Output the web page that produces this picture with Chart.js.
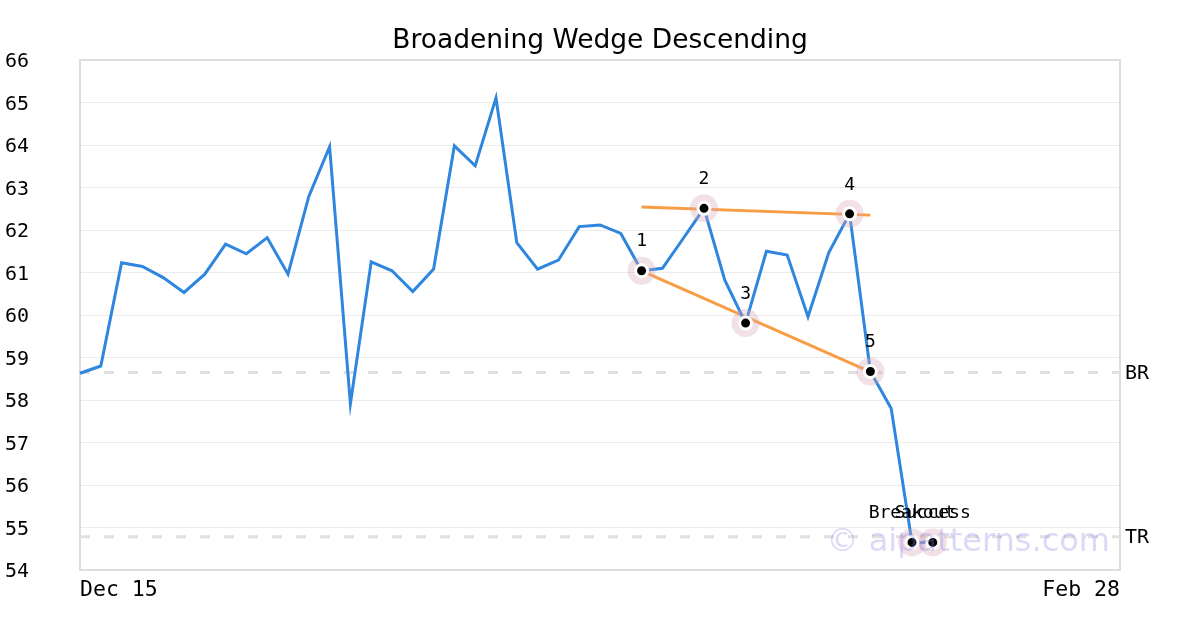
<!DOCTYPE html>
<html>
<head>
<meta charset="utf-8">
<script src="https://cdn.jsdelivr.net/npm/chart.js@4.4.1/dist/chart.umd.min.js"></script>
<style>
  html, body { margin: 0; padding: 0; background: #fff; }
  #grafico { display: block; }
</style>
</head>
<body>
<canvas id="grafico" width="1200" height="630"></canvas>
<script>
// ==============================
// DATOS
// ==============================

// Fechas (días de mercado)
const fechas = [
  "Dec 15", "Dec 16", "Dec 17", "Dec 18", "Dec 19", "Dec 22", "Dec 23", "Dec 24", "Dec 26",
  "Dec 29", "Dec 30", "Dec 31", "Jan 2", "Jan 5", "Jan 6", "Jan 7", "Jan 8", "Jan 9",
  "Jan 12", "Jan 13", "Jan 14", "Jan 15", "Jan 16", "Jan 20", "Jan 21", "Jan 22", "Jan 23",
  "Jan 26", "Jan 27", "Jan 28", "Jan 29", "Jan 30", "Feb 2", "Feb 3", "Feb 4", "Feb 5",
  "Feb 6", "Feb 9", "Feb 10", "Feb 11", "Feb 12", "Feb 13", "Feb 17", "Feb 18", "Feb 19",
  "Feb 20", "Feb 23", "Feb 24", "Feb 25", "Feb 26", "Feb 28"
];

// Precio
const precios = [
  58.63, 58.80, 61.23, 61.14, 60.88, 60.53, 60.96, 61.67, 61.44, 61.82,
  60.96, 62.79, 63.96, 57.91, 61.25, 61.04, 60.55, 61.08, 63.98, 63.51,
  65.11, 61.70, 61.08, 61.29, 62.08, 62.12, 61.92, 61.04, 61.10, 61.80,
  62.51, 60.82, 59.81, 61.50, 61.41, 59.96, 61.47, 62.38, 58.67, 57.80,
  54.65, 54.65
];

// Puntos del patrón
const puntosIdx = [27, 30, 32, 37, 38, 40, 41];
const puntosTexto = ["1", "2", "3", "4", "5", "Breakout", "Success"];

// Líneas de tendencia [inicio, fin]
const lineaSuperiorX = [27, 38];
const lineaSuperiorY = [62.54, 62.35];
const lineaInferiorX = [27, 38];
const lineaInferiorY = [61.04, 58.66];

// Niveles horizontales
const niveles = [58.65, 54.78];
const nivelesTexto = ["BR", "TR"];

// Eje Y
const yMin = 54;
const yMax = 66;

// ==============================
// CONSTRUCCIÓN DE DATASETS
// ==============================
const ultimo = fechas.length - 1;

// serie completa con huecos, sólo con valores en los índices dados
function serieDispersa(indices, valores) {
  return fechas.map((_, i) => {
    const k = indices.indexOf(i);
    return k >= 0 ? valores[k] : null;
  });
}

const serieMarcadores = serieDispersa(puntosIdx, puntosIdx.map(i => precios[i]));

const datasetsNiveles = niveles.map(v => ({
  data: serieDispersa([0, ultimo], [v, v]),
  spanGaps: true,
  borderColor: "#e0e0e0",
  borderWidth: 3,
  borderDash: [10, 14],
  pointRadius: 0,
  order: 5
}));

const mono = "'DejaVu Sans Mono', monospace";

// Textos, título y marco
const anotaciones = {
  id: "anotaciones",
  beforeDatasetsDraw(chart) {
    const { ctx, chartArea: a } = chart;
    ctx.save();
    ctx.strokeStyle = "#dddddd";
    ctx.lineWidth = 2;
    ctx.strokeRect(a.left, a.top, a.right - a.left, a.bottom - a.top);
    ctx.restore();
  },
  afterDatasetsDraw(chart) {
    const { ctx, chartArea: a, scales } = chart;
    ctx.save();
    ctx.fillStyle = "#000";
    ctx.textAlign = "center";
    ctx.textBaseline = "middle";

    // título
    ctx.font = "26.5px 'DejaVu Sans', sans-serif";
    ctx.fillText("Broadening Wedge Descending", chart.width / 2, 41);

    ctx.font = "18px " + mono;
    puntosIdx.forEach((idx, k) => {
      const x = scales.x.getPixelForValue(idx);
      const y = scales.y.getPixelForValue(precios[idx]);
      ctx.fillText(puntosTexto[k], x, y - 29);
    });

    ctx.font = "20px " + mono;
    ctx.textAlign = "left";
    niveles.forEach((v, k) => {
      ctx.fillText(nivelesTexto[k], a.right + 5, scales.y.getPixelForValue(v) + 1);
    });

    // marca de agua
    ctx.font = "32px 'DejaVu Sans', sans-serif";
    ctx.textAlign = "right";
    ctx.fillStyle = "rgba(140, 125, 230, 0.3)";
    ctx.fillText("© aipatterns.com", a.right - 10, a.bottom - 27);
    ctx.restore();
  }
};

// ==============================
// GRÁFICO
// ==============================
const ctx = document.getElementById("grafico").getContext("2d");

new Chart(ctx, {
  type: "line",
  data: {
    labels: fechas,
    datasets: [
      {
        data: serieMarcadores,
        showLine: false,
        pointRadius: 6,
        pointBackgroundColor: "#000",
        pointBorderColor: "#fff",
        pointBorderWidth: 3,
        order: 0
      },
      {
        data: serieMarcadores,
        showLine: false,
        pointRadius: 14,
        pointBackgroundColor: "rgba(215, 165, 180, 0.35)",
        pointBorderWidth: 0,
        order: 1
      },
      {
        data: precios,
        borderColor: "#2e86de",
        borderWidth: 3,
        pointRadius: 0,
        tension: 0,
        order: 2
      },
      {
        data: serieDispersa(lineaSuperiorX, lineaSuperiorY),
        spanGaps: true,
        borderColor: "#f99d45",
        borderWidth: 3,
        pointRadius: 0,
        order: 3
      },
      {
        data: serieDispersa(lineaInferiorX, lineaInferiorY),
        spanGaps: true,
        borderColor: "#f99d45",
        borderWidth: 3,
        pointRadius: 0,
        order: 3
      },
      ...datasetsNiveles
    ]
  },
  options: {
    responsive: false,
    animation: false,
    layout: { padding: { left: 5, right: 80, top: 60, bottom: 0 } },
    plugins: {
      legend: { display: false },
      tooltip: { enabled: false },
      title: { display: false }
    },
    scales: {
      x: {
        grid: { display: false },
        border: { display: false },
        afterFit(s) { s.height = 60; },
        ticks: {
          autoSkip: false,
          maxRotation: 0,
          align: "inner",
          color: "#000",
          padding: 0,
          font: { family: mono, size: 21.5 },
          callback(v, i) {
            return i === 0 || i === fechas.length - 1 ? fechas[i] : "";
          }
        }
      },
      y: {
        min: yMin,
        max: yMax,
        grid: { color: "#ebebeb", lineWidth: 1, drawTicks: false },
        border: { display: false },
        afterFit(s) { s.width = 75; },
        ticks: {
          stepSize: 1,
          color: "#000",
          crossAlign: "far",
          padding: 0,
          labelOffset: 2,
          font: { family: mono, size: 20 }
        }
      }
    }
  },
  plugins: [anotaciones]
});
</script>
</body>
</html>
